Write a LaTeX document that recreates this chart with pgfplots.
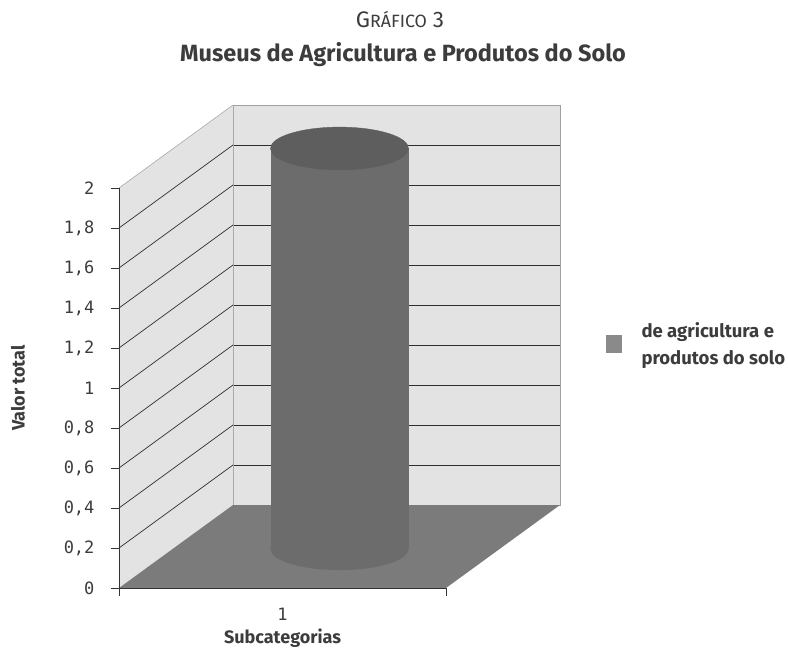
\documentclass[border=0pt]{standalone}
\usepackage{pgfplots}
\pgfplotsset{compat=1.18}
\usepackage{fontspec}
\setmainfont{Fira Sans}
\newfontfamily\tickfont{DejaVu Sans Mono}
\definecolor{wall}{HTML}{E3E3E3}
\definecolor{floorc}{HTML}{7B7B7B}
\definecolor{cyl}{HTML}{6C6C6C}
\definecolor{cyltop}{HTML}{5E5E5E}
\definecolor{leg}{HTML}{8A8A8A}
\definecolor{txt}{HTML}{3C3C3C}
\definecolor{gridc}{HTML}{2E2E2E}
\definecolor{edge}{HTML}{A0A0A0}
\begin{document}
\begin{tikzpicture}[x=1pt,y=1pt]
\useasboundingbox (0,0) rectangle (788,654);
% back wall, side wall and floor
\begin{axis}[at={(233pt,149pt)}, anchor=south west, scale only axis,
  width=327pt, height=400pt,
  xmin=0.5, xmax=1.5, ymin=0, ymax=2, clip=false,
  axis background/.style={fill=wall},
  xtick=\empty, ytick={0.2,0.4,0.6,0.8,1,1.2,1.4,1.6,1.8}, yticklabels={},
  ymajorgrids, major tick length=0pt,
  grid style={gridc, line width=0.7pt},
  axis line style={edge, line width=0.5pt}]
  \fill[wall] (axis cs:0.5,0) -- (axis cs:0.5,2) -- ++(-114pt,-83pt) -- ++(0pt,-400pt) -- cycle;
  \draw[edge, line width=0.5pt] (axis cs:0.5,2) -- ++(-114pt,-83pt);
  \pgfplotsinvokeforeach{0.2,0.4,0.6,0.8,1,1.2,1.4,1.6,1.8}{
    \draw[gridc, line width=0.7pt] (axis cs:0.5,#1) -- ++(-114pt,-83pt);}
  \fill[floorc] (axis cs:0.5,0) -- (axis cs:1.5,0) -- ++(-114pt,-83pt) -- ++(-327pt,0pt) -- cycle;
\end{axis}
% cylinder (half depth)
\begin{axis}[at={(176pt,105.5pt)}, anchor=south west, scale only axis,
  width=327pt, height=400pt,
  xmin=0.5, xmax=1.5, ymin=0, ymax=2, clip=false, hide axis]
  \addplot[only marks, mark=*, mark size=69pt,
    mark options={yscale=0.31, fill=cyl, draw=cyl}] coordinates {(1,0)};
  \addplot[ybar, bar width=138pt, fill=cyl, draw=none, mark=*, mark size=69pt,
    mark options={yscale=0.31, fill=cyltop, draw=cyltop}] coordinates {(1,2)};
\end{axis}
% front axis
\begin{axis}[at={(119pt,66pt)}, anchor=south west, scale only axis,
  width=327pt, height=400pt,
  xmin=0.5, xmax=1.5, ymin=0, ymax=2,
  axis x line*=bottom, axis y line*=left,
  axis line style={black!80, line width=0.6pt},
  tick align=outside, major tick length=8pt,
  tick style={black!80, line width=0.6pt},
  xtick={0.5,1.5}, xticklabels={1}, x tick label as interval,
  ytick={0,0.2,0.4,0.6,0.8,1,1.2,1.4,1.6,1.8,2},
  /pgf/number format/.cd, fixed, precision=1, use comma, assume math mode=true, /pgfplots/.cd,
  ticklabel style={font=\tickfont\fontsize{17}{20}\selectfont, text=txt},
  yticklabel style={xshift=-13pt},
  xticklabel style={yshift=-11pt, inner sep=1pt},
  xlabel={Subcategorias}, ylabel={Valor total},
  label style={font=\bfseries\fontsize{18}{21}\selectfont, text=txt},
  xlabel style={at={(axis description cs:0.5,-0.125)}, anchor=center, inner sep=1pt},
  ylabel style={at={(axis description cs:-0.309,0.5)}, anchor=center, rotate=0},
  legend style={draw=none, fill=none, at={(axis description cs:1.478,0.61)}, anchor=west,
    font=\bfseries\fontsize{18.5}{27}\selectfont, text=txt,
    cells={anchor=west, align=left}},
  legend image code/.code={\fill[leg] (0pt,-9pt) rectangle (16pt,9pt);
    \path[draw=none, fill=none] (0pt,0pt) rectangle (34pt,0.1pt);}]
  \addlegendimage{draw=none}
  \addlegendentry{de agricultura e\\produtos do solo}
\end{axis}
\node[text=txt, font=\fontsize{22.5}{26}\selectfont] at (400,634)
  {G{\fontsize{17.8}{20}\selectfont RÁFICO} 3};
\node[text=txt, font=\bfseries\fontsize{23.5}{28}\selectfont] at (403,599)
  {Museus de Agricultura e Produtos do Solo};
\end{tikzpicture}
\end{document}
